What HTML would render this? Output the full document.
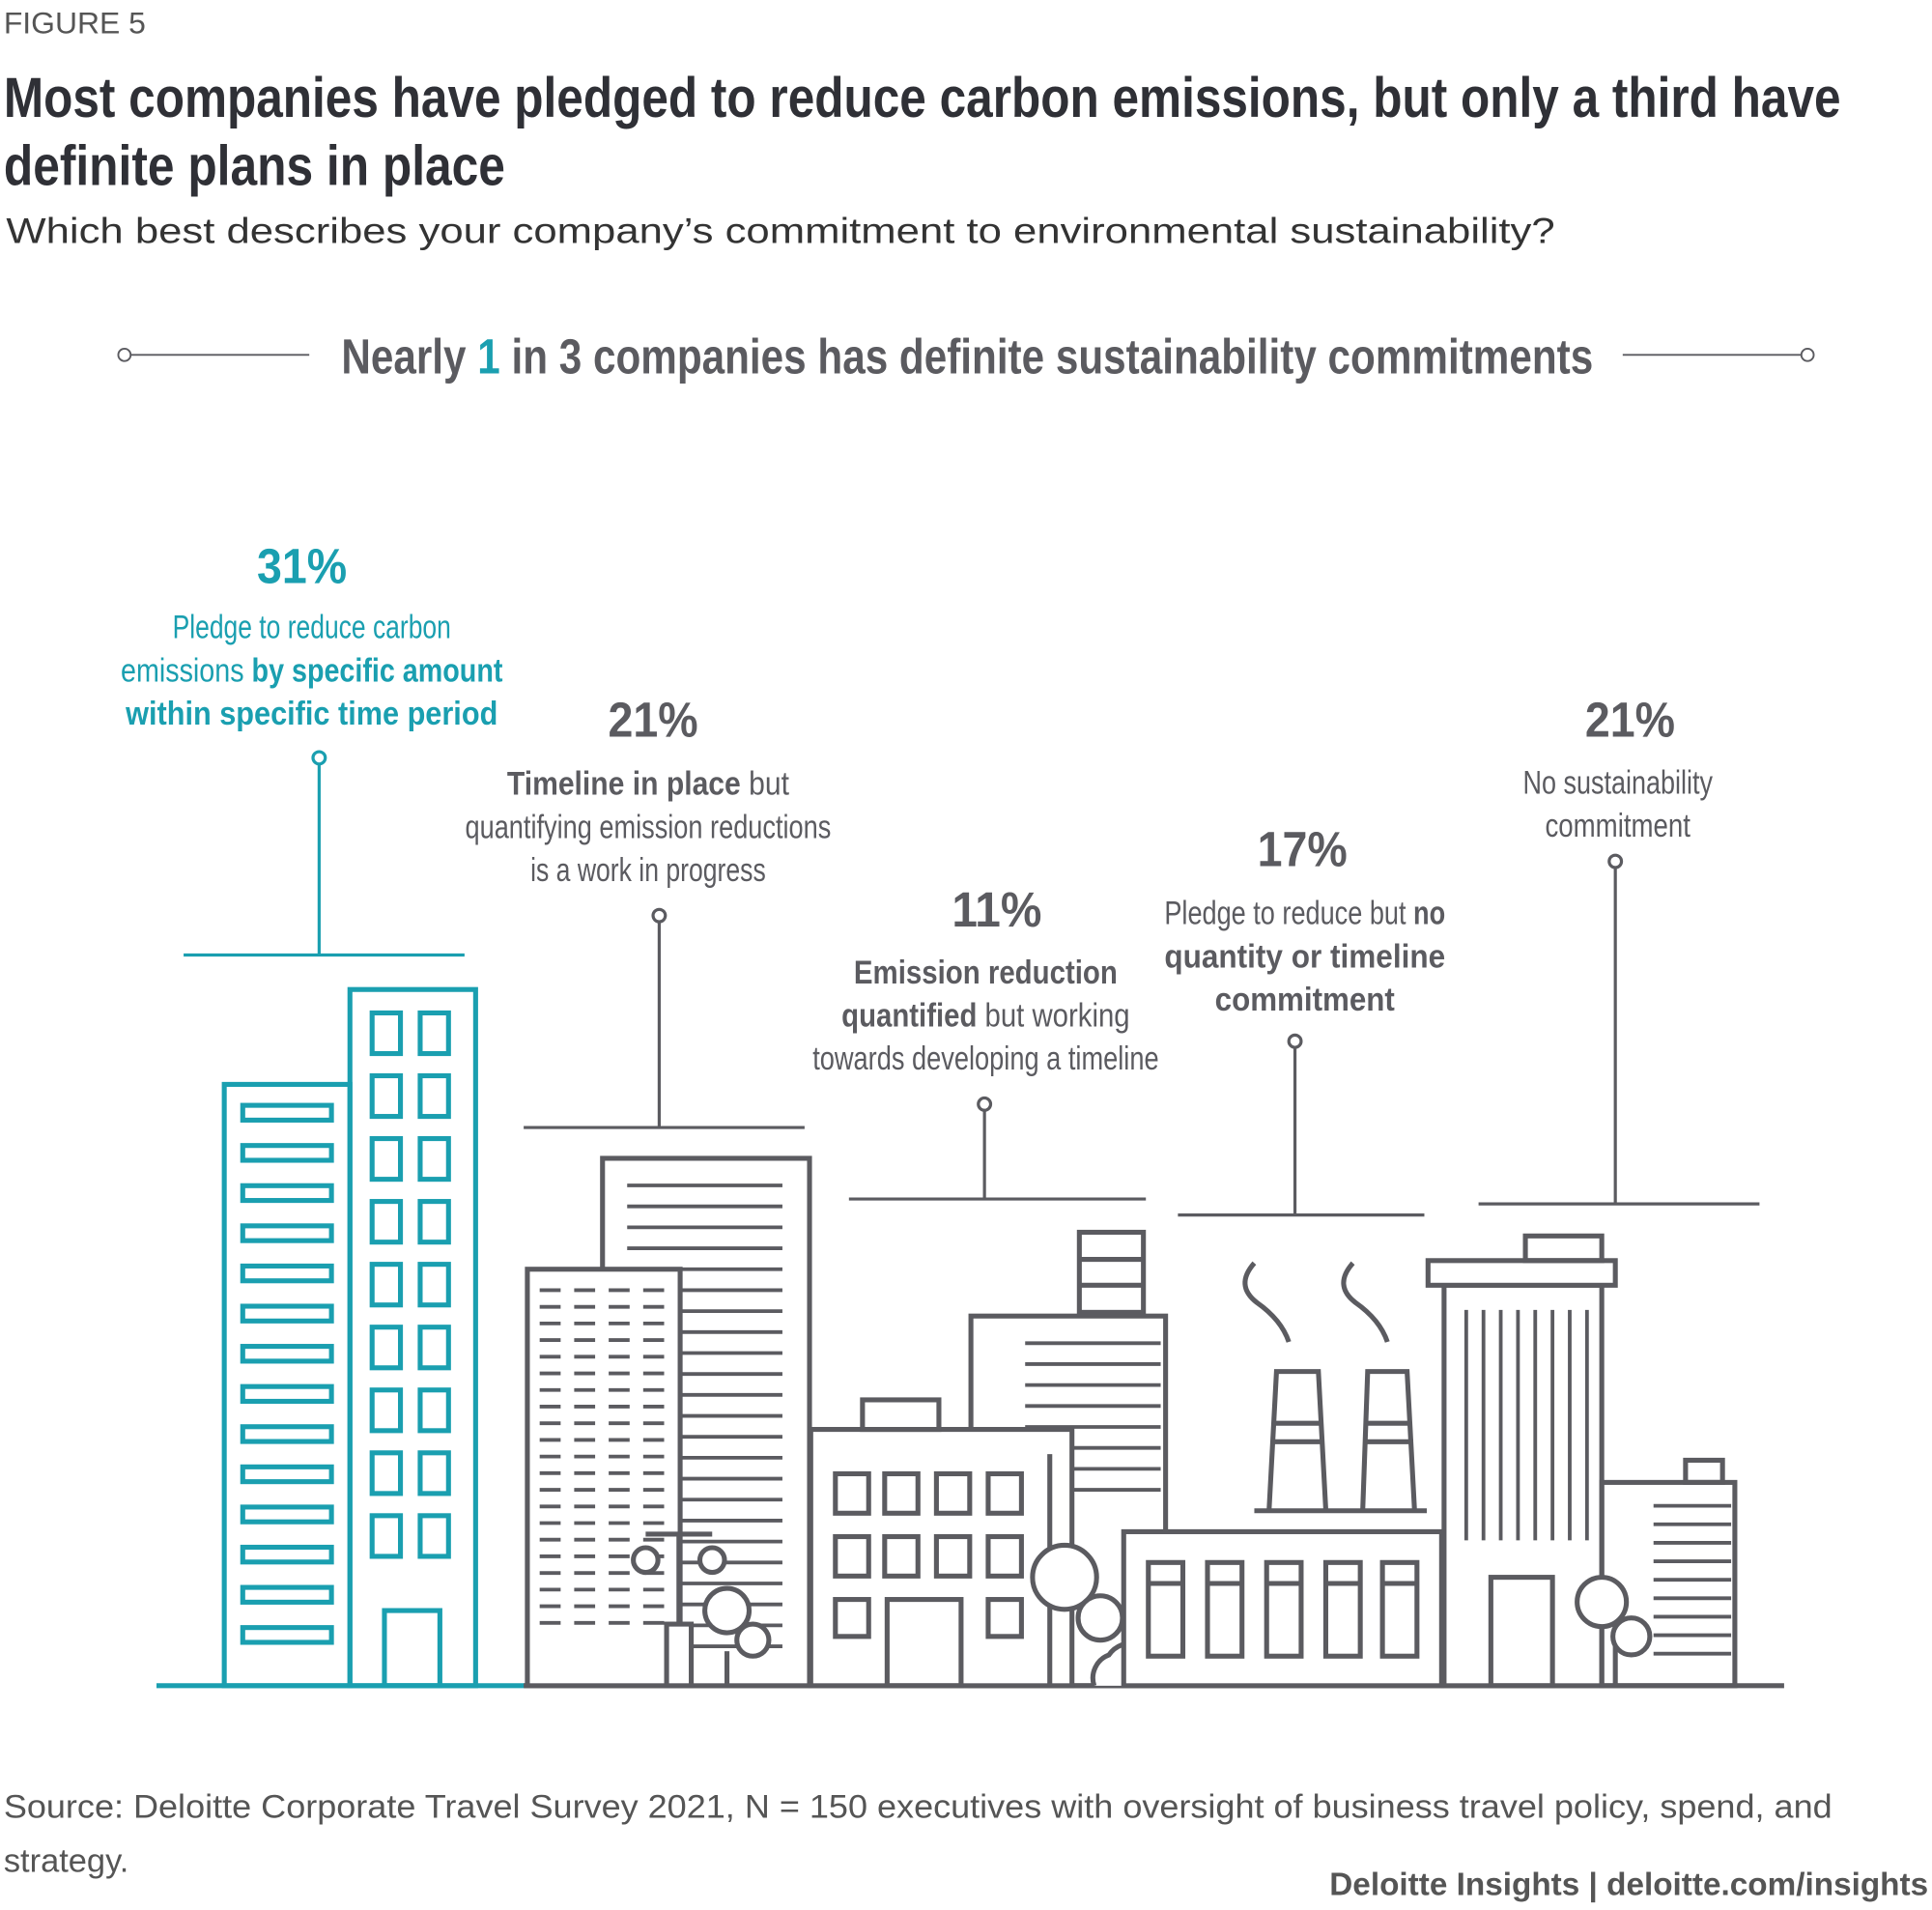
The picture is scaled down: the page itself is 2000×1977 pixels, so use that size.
<!DOCTYPE html>
<html><head><meta charset="utf-8"><style>
html,body{margin:0;padding:0;background:#fff}
svg{display:block}
.c{font-family:"Liberation Sans Narrow","Liberation Sans",sans-serif}
.r{font-family:"Liberation Sans",sans-serif}
</style></head><body>
<svg width="2000" height="1977" viewBox="0 0 1568 1550" xmlns="http://www.w3.org/2000/svg">
<text class="r" x="3" y="27" font-size="25" fill="#555">FIGURE 5</text>
<text class="c" x="3" y="95" font-size="46" font-weight="bold" fill="#2f3036" textLength="1491" lengthAdjust="spacingAndGlyphs">Most companies have pledged to reduce carbon emissions, but only a third have</text>
<text class="c" x="3" y="150" font-size="46" font-weight="bold" fill="#2f3036" textLength="407" lengthAdjust="spacingAndGlyphs">definite plans in place</text>
<text class="r" x="5" y="197" font-size="29" fill="#333" textLength="1257" lengthAdjust="spacingAndGlyphs">Which best describes your company’s commitment to environmental sustainability?</text>
<g stroke="#5b5b60" stroke-width="1.5" fill="#fff">
<circle cx="101" cy="288" r="5"/><line x1="106" y1="288" x2="251" y2="288"/>
<line x1="1317" y1="288" x2="1462" y2="288"/><circle cx="1467" cy="288" r="5"/>
</g>
<text class="c" x="277" y="303" font-size="40" font-weight="bold" fill="#5b5b60" textLength="1016" lengthAdjust="spacingAndGlyphs">Nearly <tspan fill="#1a9fb0">1</tspan> in 3 companies has definite sustainability commitments</text>

<g id="labels"></g>
<g id="city" fill="none" stroke="#5b5b60" stroke-width="4">
<g stroke="#1a9fb0">
<line x1="127" y1="1368" x2="427" y2="1368"/>
<rect x="182" y="880" width="102" height="488"/>
<rect x="284" y="803" width="102" height="565"/>
<rect x="312" y="1307" width="45" height="61"/>
<g id="tealbars"></g><g id="tealwin"></g>
</g>
<line x1="425" y1="1368" x2="1448" y2="1368"/>
<rect x="489" y="940" width="168" height="428" fill="#fff"/>
<g id="hlines" stroke-width="3"></g>
<rect x="428" y="1030" width="124" height="338" fill="#fff"/>
<g id="dashes" stroke-width="3"></g>
<line x1="551" y1="1245" x2="551" y2="1318"/><line x1="524" y1="1245" x2="578" y2="1245"/>
<circle cx="524" cy="1266" r="10" fill="#fff"/><circle cx="578" cy="1266" r="10" fill="#fff"/>
<rect x="541" y="1318" width="20" height="50" fill="#fff"/>
<path d="M590 1340 V1368"/>
<circle cx="590" cy="1307" r="18" fill="#fff"/><circle cx="611" cy="1331" r="13" fill="#fff"/>
<rect x="788" y="1068" width="158" height="300"/>
<rect x="876" y="1000" width="52" height="65"/>
<line x1="876" y1="1022" x2="928" y2="1022"/><line x1="876" y1="1043" x2="928" y2="1043"/>
<g id="hlines2" stroke-width="3"></g>
<rect x="658" y="1160" width="212" height="208" fill="#fff"/>
<rect x="700" y="1136" width="62" height="24"/>
<g id="win3"></g>
<rect x="720" y="1298" width="60" height="70"/>
<line x1="852" y1="1180" x2="852" y2="1368"/>
<circle cx="864" cy="1280" r="26" fill="#fff"/><circle cx="893" cy="1313" r="18" fill="#fff"/>
<path d="M888 1368 a20 20 0 0 1 12 -25 a22 22 0 0 1 40 10 a12 12 0 0 1 8 15" fill="#fff"/>
<rect x="912" y="1243" width="258" height="125" fill="#fff"/>
<path d="M1030 1225 L1036 1113 L1070 1113 L1076 1225 M1033 1155 H1073 M1032 1170 H1074"/>
<path d="M1106 1225 L1110 1113 L1142 1113 L1148 1225 M1108 1155 H1146 M1107 1170 H1147"/>
<line x1="1018" y1="1226" x2="1158" y2="1226"/>
<path d="M1018 1025 q-16 18 2 32 q20 14 26 32"/>
<path d="M1098 1025 q-16 18 2 32 q20 14 26 32"/>
<g id="fwin"></g>
<rect x="1172" y="1043" width="128" height="325" fill="#fff"/>
<rect x="1159" y="1023" width="152" height="20" fill="#fff"/>
<rect x="1238" y="1003" width="62" height="20"/>
<g id="vlines" stroke-width="3"></g>
<rect x="1210" y="1280" width="50" height="88"/>
<rect x="1300" y="1203" width="108" height="165"/>
<rect x="1368" y="1185" width="30" height="18"/>
<g id="hlines3" stroke-width="3"></g>
<line x1="1311" y1="1315" x2="1311" y2="1368"/>
<circle cx="1300" cy="1300" r="20" fill="#fff"/><circle cx="1324" cy="1328" r="15" fill="#fff"/>
</g>
<text class="r" x="3" y="1475" font-size="27" fill="#555" textLength="1484" lengthAdjust="spacingAndGlyphs">Source: Deloitte Corporate Travel Survey 2021, N = 150 executives with oversight of business travel policy, spend, and</text>
<text class="r" x="3" y="1519" font-size="27" fill="#555">strategy.</text>
<text class="r" x="1565" y="1538" font-size="26" font-weight="bold" fill="#555" text-anchor="end" textLength="486" lengthAdjust="spacingAndGlyphs">Deloitte Insights | deloitte.com/insights</text>
</svg>
<script>
const categories=["Pledge to reduce carbon emissions by specific amount within specific time period","Timeline in place but quantifying emission reductions is a work in progress","Emission reduction quantified but working towards developing a timeline","Pledge to reduce but no quantity or timeline commitment","No sustainability commitment"];
const values=[31,21,11,17,21];
const labelLines=[
 [[["Pledge to reduce carbon",0]],[["emissions ",0],["by specific amount",1]],[["within specific time period",1]]],
 [[["Timeline in place",1],[" but",0]],[["quantifying emission reductions",0]],[["is a work in progress",0]]],
 [[["Emission reduction",1]],[["quantified",1],[" but working",0]],[["towards developing a timeline",0]]],
 [[["Pledge to reduce but ",0],["no",1]],[["quantity or timeline",1]],[["commitment",1]]],
 [[["No sustainability",0]],[["commitment",0]]]
];
const NS="http://www.w3.org/2000/svg";
function mk(t,a,p){const e=document.createElementNS(NS,t);for(const k in a)e.setAttribute(k,a[k]);p.appendChild(e);return e;}
const L=document.getElementById('labels');
const layout=[{pc:245,py:473,tc:253,ty:518,w:[226,310,302],pin:[259,615,775,149,377],col:"#1a9fb0"},
{pc:530,py:598,tc:526,ty:645,w:[229,297,191],pin:[535,743,915,425,653],col:"#5b5b60"},
{pc:809,py:752,tc:800,ty:798,w:[214,234,281],pin:[799,896,973,689,930],col:"#5b5b60"},
{pc:1057,py:703,tc:1059,ty:750,w:[228,228,146],pin:[1051,845,986,956,1156],col:"#5b5b60"},
{pc:1323,py:598,tc:1313,ty:644,w:[154,118],pin:[1311,699,977,1200,1428],col:"#5b5b60"}];
values.forEach((v,i)=>{const o=layout[i];
 const p=mk('text',{x:o.pc,y:o.py,'font-size':40,'font-weight':'bold',fill:o.col,'text-anchor':'middle',class:'c',textLength:73,lengthAdjust:'spacingAndGlyphs'},L);
 
 
 p.textContent=v+'%';
 labelLines[i].forEach((ln,j)=>{const t=mk('text',{x:o.tc,y:o.ty+j*35,'font-size':27,fill:o.col,'text-anchor':'middle',class:'c',textLength:o.w[j],lengthAdjust:'spacingAndGlyphs'},L);
  
  
  ln.forEach(s=>{const ts=mk('tspan',{'font-weight':s[1]?'bold':'normal'},t);ts.textContent=s[0];});});
 const g=mk('g',{stroke:o.col,'stroke-width':2.5,fill:'#fff'},L);
 
 
 const q=o.pin;mk('line',{x1:q[0],y1:q[1]+5,x2:q[0],y2:q[2]},g);mk('line',{x1:q[3],y1:q[2],x2:q[4],y2:q[2]},g);mk('circle',{cx:q[0],cy:q[1],r:5},g);
});
const tb=document.getElementById('tealbars');for(let k=0;k<14;k++)mk('rect',{x:197,y:897+k*32.6,width:72,height:12},tb);
const tw=document.getElementById('tealwin');for(let r=0;r<9;r++)for(const x of[302,341])mk('rect',{x:x,y:822+r*51,width:23,height:33},tw);
const d=document.getElementById('dashes');for(let y=1047;y<1330;y+=13.5)for(const x of[438,466,494,522])mk('line',{x1:x,y1:y,x2:x+17,y2:y},d);
const h=document.getElementById('hlines');for(let y=962;y<1340;y+=17)mk('line',{x1:509,y1:y,x2:635,y2:y},h);
const h2=document.getElementById('hlines2');for(let y=1090;y<1220;y+=17)mk('line',{x1:832,y1:y,x2:942,y2:y},h2);
const w3=document.getElementById('win3');for(const y of[1196,1247])for(const x of[678,718,760,802])mk('rect',{x:x,y:y,width:27,height:32},w3);
mk('rect',{x:678,y:1298,width:27,height:30},w3);mk('rect',{x:802,y:1298,width:27,height:30},w3);
const fw=document.getElementById('fwin');for(const x of[932,980,1028,1076,1122]){mk('rect',{x:x,y:1268,width:28,height:76},fw);mk('line',{x1:x,y1:1285,x2:x+28,y2:1285},fw);}
const vl=document.getElementById('vlines');for(let x=1190;x<1290;x+=14)mk('line',{x1:x,y1:1063,x2:x,y2:1250},vl);
const h3=document.getElementById('hlines3');for(let y=1222;y<1345;y+=15)mk('line',{x1:1342,y1:y,x2:1405,y2:y},h3);
</script>
</body></html>
